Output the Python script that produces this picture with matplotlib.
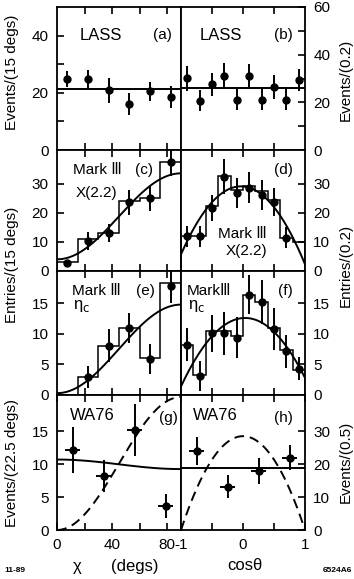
import numpy as np
import matplotlib.pyplot as plt
from matplotlib.ticker import FixedLocator, NullFormatter

plt.rcParams['font.family'] = ['Liberation Sans', 'DejaVu Sans']
plt.rcParams['mathtext.fontset'] = 'dejavusans'

# bins
chi_edges = [0, 15, 30, 45, 60, 75, 90]
chi_centers = [7.5, 22.5, 37.5, 52.5, 67.5, 82.5]
cos_edges = [-1.0, -0.8, -0.6, -0.4, -0.2, 0.0, 0.2, 0.4, 0.6, 0.8, 1.0]
cos_centers = [-0.9, -0.7, -0.5, -0.3, -0.1, 0.1, 0.3, 0.5, 0.7, 0.9]

# (a) LASS chi
lass_chi_y = [24.8, 24.8, 20.9, 16.1, 20.6, 18.6]
lass_chi_err = [2.9, 3.3, 4.4, 3.7, 3.3, 3.9]
lass_chi_fit = 21.5
# (b) LASS cos
lass_cos_y = [30.1, 20.7, 27.5, 31.1, 21.1, 31.1, 21.1, 26.5, 21.1, 29.4]
lass_cos_err = [5.3, 4.4, 4.8, 5.2, 4.3, 5.0, 4.3, 5.0, 4.3, 4.6]
lass_cos_fit = 26.1

# (c) Mark III X(2.2) chi
x22_chi_hist = [3.1, 11.1, 13.1, 23.9, 25.0, 37.3]
x22_chi_y = [2.6, 10.2, 13.1, 23.5, 25.0, 37.5]
x22_chi_err = [1.2, 3.1, 3.1, 4.3, 4.3, 4.8]
x22_chi_fit = (4.0, 29.5)           # a + b sin^2(chi)
# (d) Mark III X(2.2) cos
x22_cos_hist = [11.9, 11.9, 22.2, 32.7, 27.8, 29.0, 27.3, 24.4, 11.4, 9.9]
x22_cos_y = [11.9, 11.9, 21.6, 32.4, 26.7, 28.6, 26.1, 23.6, 11.4]
x22_cos_err = [3.7, 3.7, 4.6, 6.0, 5.2, 5.3, 5.1, 4.9, 3.6]
x22_cos_fit = (4.0, 25.0, -1.7)     # a + b (1-x^2) + c x

# (e) Mark III eta_c chi
etac_chi_hist = [0.0, 2.9, 8.0, 11.0, 6.0, 18.3]
etac_chi_y = [3.0, 8.1, 11.0, 5.9, 17.8]
etac_chi_err = [1.8, 2.7, 2.5, 2.5, 2.8]
etac_chi_fit = (0.3, 14.5)
# (f) Mark III eta_c cos
etac_cos_hist = [8.2, 3.2, 10.4, 10.4, 9.6, 16.4, 15.2, 11.0, 7.4, 4.1]
etac_cos_y = [8.2, 3.1, 10.1, 10.1, 9.4, 16.4, 15.2, 10.8, 7.2, 4.3]
etac_cos_err = [2.7, 2.5, 3.0, 3.5, 3.4, 3.2, 3.6, 3.5, 2.7, 1.9]
etac_cos_fit = (2.1, 10.5, 0.7)

# (g) WA76 chi
wa_chi_x = [11.25, 33.75, 56.25, 78.75]
wa_chi_y = [12.2, 8.2, 15.2, 3.6]
wa_chi_err = [3.5, 2.4, 4.0, 1.8]
wa_chi_solid = (10.7, -1.45)        # a + b sin^2(chi)
wa_chi_dashed = 20.2                # b sin^2(chi)
# (h) WA76 cos
wa_cos_x = [-0.75, -0.25, 0.25, 0.75]
wa_cos_y = [24.0, 13.1, 18.0, 22.0]
wa_cos_err = [4.2, 3.5, 4.0, 3.7]
wa_cos_solid = 18.9
wa_cos_dashed = 28.5                # b (1-x^2)

W, H = 354, 579
fig = plt.figure(figsize=(W / 100, H / 100), dpi=100)

def px_axes(x0, y0, x1, y1):
    return fig.add_axes([x0 / W, 1 - y1 / H, (x1 - x0) / W, (y1 - y0) / H])

def ftext(x, y, s, **kw):
    kw.setdefault('fontsize', 11)
    kw.setdefault('va', 'center')
    fig.text(x / W, 1 - y / H, s, **kw)

L, M, R = 57, 181, 305
rows = [7, 150, 271, 395, 530]

def style(ax, side, xmaj, xmin, ymaj, ymin, xlabels=False):
    for s in ax.spines.values():
        s.set_linewidth(1.3)
    ax.xaxis.set_major_locator(FixedLocator(xmaj))
    ax.xaxis.set_minor_locator(FixedLocator(xmin))
    ax.yaxis.set_major_locator(FixedLocator(ymaj))
    ax.yaxis.set_minor_locator(FixedLocator(ymin))
    ax.tick_params(which='both', direction='in', length=5, width=1.2,
                   top=True, bottom=True, labelsize=11, pad=6)
    if side == 'left':
        ax.tick_params(which='both', left=True, right=False)
    else:
        ax.yaxis.tick_right()
        ax.tick_params(which='both', left=False, right=True)
    if not xlabels:
        ax.xaxis.set_major_formatter(NullFormatter())

chi_line = np.linspace(0, 90, 200)
cos_line = np.linspace(-1, 1, 200)
s2 = np.sin(np.radians(chi_line)) ** 2
ebkw = dict(fmt='o', color='black', ms=5, elinewidth=1.4, capsize=0)

# row 1
ax = px_axes(L, rows[0], M, rows[1])
ax.errorbar(chi_centers, lass_chi_y, yerr=lass_chi_err, **ebkw)
ax.axhline(lass_chi_fit, color='black', lw=1.4)
ax.set_xlim(0, 90)
ax.set_ylim(0, 50)
style(ax, 'left', [20, 40, 60, 80], [], [0, 20, 40], [10, 30])

ax = px_axes(M, rows[0], R, rows[1])
ax.errorbar(cos_centers, lass_cos_y, yerr=lass_cos_err, **ebkw)
ax.axhline(lass_cos_fit, color='black', lw=1.4)
ax.set_xlim(-1, 1)
ax.set_ylim(0, 60)
style(ax, 'right', [-0.5, 0, 0.5], [], [0, 20, 40, 60], [10, 30, 50])

# row 2
ax = px_axes(L, rows[1], M, rows[2])
ax.stairs(x22_chi_hist, chi_edges, color='black', lw=1.1)
ax.errorbar(chi_centers, x22_chi_y, yerr=x22_chi_err, **ebkw)
ax.plot(chi_line, x22_chi_fit[0] + x22_chi_fit[1] * s2, color='black', lw=1.4)
ax.set_xlim(0, 90)
ax.set_ylim(0, 41.5)
style(ax, 'left', [20, 40, 60, 80], [], [0, 10, 20, 30], [])

ax = px_axes(M, rows[1], R, rows[2])
ax.stairs(x22_cos_hist, cos_edges, color='black', lw=1.1)
ax.errorbar(cos_centers[:9], x22_cos_y, yerr=x22_cos_err, **ebkw)
a, b, c = x22_cos_fit
ax.plot(cos_line, a + b * (1 - cos_line ** 2) + c * cos_line, color='black', lw=1.4)
ax.set_xlim(-1, 1)
ax.set_ylim(0, 41.5)
style(ax, 'right', [-0.5, 0, 0.5], [], [0, 10, 20, 30], [])

# row 3
ax = px_axes(L, rows[2], M, rows[3])
ax.stairs(etac_chi_hist, chi_edges, color='black', lw=1.1)
ax.errorbar(chi_centers[1:], etac_chi_y, yerr=etac_chi_err, **ebkw)
ax.plot(chi_line, etac_chi_fit[0] + etac_chi_fit[1] * s2, color='black', lw=1.4)
ax.set_xlim(0, 90)
ax.set_ylim(0, 20.3)
style(ax, 'left', [20, 40, 60, 80], [], [0, 5, 10, 15], [])

ax = px_axes(M, rows[2], R, rows[3])
ax.stairs(etac_cos_hist, cos_edges, color='black', lw=1.1)
ax.errorbar(cos_centers, etac_cos_y, yerr=etac_cos_err, **ebkw)
a, b, c = etac_cos_fit
ax.plot(cos_line, a + b * (1 - cos_line ** 2) + c * cos_line, color='black', lw=1.4)
ax.set_xlim(-1, 1)
ax.set_ylim(0, 20.3)
style(ax, 'right', [-0.5, 0, 0.5], [], [0, 5, 10, 15], [])

# row 4
ax = px_axes(L, rows[3], M, rows[4])
ax.errorbar(wa_chi_x, wa_chi_y, yerr=wa_chi_err, xerr=5.5, **ebkw)
ax.plot(chi_line, wa_chi_solid[0] + wa_chi_solid[1] * s2, color='black', lw=1.4)
ax.plot(chi_line, wa_chi_dashed * s2, color='black', lw=1.4, ls=(0, (5, 3)))
ax.set_xlim(0, 90)
ax.set_ylim(0, 20.5)
style(ax, 'left', [0, 40, 80], [20, 60], [0, 5, 10, 15], [], xlabels=True)

ax = px_axes(M, rows[3], R, rows[4])
ax.errorbar(wa_cos_x, wa_cos_y, yerr=wa_cos_err, xerr=0.12, **ebkw)
ax.axhline(wa_cos_solid, color='black', lw=1.4)
ax.plot(cos_line, wa_cos_dashed * (1 - cos_line ** 2), color='black', lw=1.4, ls=(0, (5, 3)))
ax.set_xlim(-1, 1)
ax.set_ylim(0, 41)
style(ax, 'right', [-1, 0, 1], [-0.5, 0.5], [0, 10, 20, 30], [], xlabels=True)
ax.set_xticklabels(['-1', '0', '1'])

# panel labels
ftext(80, 35, 'LASS', fontsize=12)
ftext(172, 35, '(a)', ha='right')
ftext(200, 35, 'LASS', fontsize=12)
ftext(293, 35, '(b)', ha='right')
ftext(73, 170, 'Mark Ⅲ')
ftext(153, 170, '(c)', ha='right')
ftext(76, 193, 'X(2.2)')
ftext(293, 170, '(d)', ha='right')
ftext(242, 234, 'Mark Ⅲ', ha='center')
ftext(246, 251, 'X(2.2)', ha='center')
ftext(72, 291, 'Mark Ⅲ')
ftext(155, 291, '(e)', ha='right')
ftext(73, 306, 'η$_\\mathrm{c}$', fontsize=12)
ftext(187, 291, 'MarkⅢ')
ftext(293, 291, '(f)', ha='right')
ftext(188, 306, 'η$_\\mathrm{c}$', fontsize=12)
ftext(70, 415, 'WA76', fontsize=12)
ftext(178, 418, '(g)', ha='right')
ftext(193, 415, 'WA76', fontsize=12)
ftext(293, 418, '(h)', ha='right')

# axis titles
ftext(12, 72, 'Events/(15 degs)', rotation=90, ha='center')
ftext(12, 265, 'Entries/(15 degs)', rotation=90, ha='center')
ftext(12, 463, 'Events/(22.5 degs)', rotation=90, ha='center')
ftext(346, 80, 'Events/(0.2)', rotation=90, ha='center')
ftext(346, 265, 'Entries/(0.2)', rotation=90, ha='center')
ftext(346, 462, 'Events/(0.5)', rotation=90, ha='center')
ftext(77, 566, 'χ', ha='center', fontsize=12)
ftext(135, 566, '(degs)', ha='center', fontsize=12)
ftext(245, 566, 'cosθ', ha='center', fontsize=12)
ftext(4, 570, '11-89', fontsize=6, weight='bold')
ftext(352, 570, '6524A6', fontsize=6, weight='bold', ha='right')

fig.savefig('out.png', dpi=100)
